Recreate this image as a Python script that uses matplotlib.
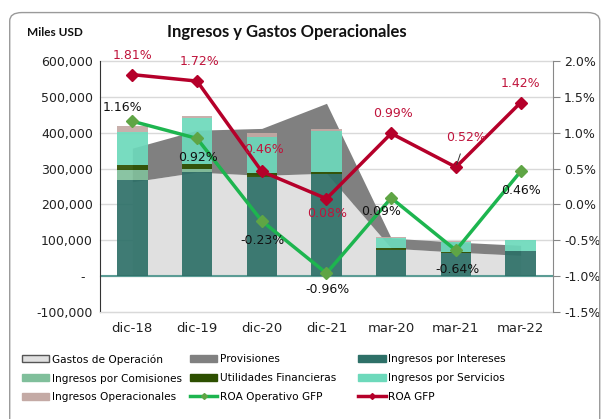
import matplotlib.pyplot as plt
import matplotlib.patches as patches
from matplotlib.lines import Line2D
import numpy as np

plt.rcParams['font.family'] = ['DejaVu Sans']

# datos (miles USD y %)
categorias = ['dic-18', 'dic-19', 'dic-20', 'dic-21', 'mar-20', 'mar-21', 'mar-22']
gastos_operacion = [263000, 290000, 281000, 287000, 78000, 67000, 58000]
provisiones = [94000, 117000, 131000, 195000, 28000, 28000, 28000]
ing_intereses = [267000, 290000, 277000, 286000, 72000, 65000, 70000]
ing_comisiones = [28000, 8000, 0, 0, 0, 0, 0]
utilidades_fin = [14000, 14000, 11000, 4000, 6000, 2000, 0]
ing_servicios = [93000, 128000, 100000, 115000, 28000, 29000, 30000]
ing_operacionales = [16000, 8000, 11000, 6000, 2000, 1000, 1000]
roa_operativo = [1.16, 0.92, -0.23, -0.96, 0.09, -0.64, 0.46]
roa_gfp = [1.81, 1.72, 0.46, 0.08, 0.99, 0.52, 1.42]

x = np.arange(len(categorias))

fig = plt.figure(figsize=(6.07, 4.19), dpi=100)
ax = fig.add_axes([0.1647, 0.2554, 0.7463, 0.599])

# areas
g = np.array(gastos_operacion)
p = np.array(provisiones)
ax.fill_between(x, 0, g, color='#e0e0e0', zorder=1, linewidth=0)
ax.fill_between(x, g, g + p, color='#808080', zorder=1, linewidth=0)

# barras apiladas
series = [
    (ing_intereses, '#2e7068'),
    (ing_comisiones, '#80bf9b'),
    (utilidades_fin, '#2d4f00'),
    (ing_servicios, '#6dd9bb'),
    (ing_operacionales, '#c4aaa5'),
]
bottom = np.zeros(len(x))
for vals, col in series:
    ax.bar(x, vals, 0.47, bottom=bottom, color=col, alpha=0.92, zorder=2, linewidth=0)
    bottom += np.array(vals)

ax.set_xlim(-0.5, len(x) - 0.5)
ax.set_ylim(-100000, 600000)
yt = np.arange(-100000, 600001, 100000)
ax.set_yticks(yt)
ax.set_yticklabels([f'{v:,.0f}' if v != 0 else '-  ' for v in yt], fontsize=9, color='#222222')
ax.yaxis.grid(True, color='#d9d9d9', linewidth=1, zorder=0, clip_on=False)
ax.set_axisbelow(True)
ax.tick_params(axis='y', length=0, pad=5)
ax.axhline(0, color='#5b9c95', linewidth=1.5, zorder=1.5)
ax.spines['bottom'].set_color('#d9d9d9')
ax.set_xticks(x)
ax.set_xticklabels(categorias, fontsize=9.5, color='#222222')
ax.tick_params(axis='x', length=0, pad=7)
ax.spines['top'].set_visible(False)
ax.spines['right'].set_visible(False)
ax.spines['left'].set_color('#333333')

# eje derecho (%)
ax2 = ax.twinx()
ax2.set_ylim(-1.5, 2.0)
yt2 = np.arange(-1.5, 2.01, 0.5)
ax2.set_yticks(yt2)
ax2.set_yticklabels([f'{v:.1f}%' for v in yt2], fontsize=9, color='#222222')
ax2.tick_params(axis='y', length=5, color='#888888', direction='out', pad=3)
for s in ['top', 'left', 'bottom']:
    ax2.spines[s].set_visible(False)
ax2.spines['right'].set_color('#888888')

ax2.plot(x, roa_gfp, color='#b5002a', linewidth=2.5, marker='D', markersize=6,
         markerfacecolor='#b5002a', zorder=4)
ax2.plot(x, roa_operativo, color='#1db54f', linewidth=2.5, marker='D', markersize=6,
         markerfacecolor='#5fa545', markeredgecolor='#5fa545', zorder=4)

red_off = [(0, 14), (2, 14), (1.5, 16), (0.7, -11), (1.5, 14), (7, 21), (0, 14)]
green_off = [(-7, 10), (0.7, -14), (0.7, -14), (0.7, -12), (-7, -10), (1.5, -14), (0, -14)]
for i in range(len(x)):
    arrow = None
    if i == 5:
        arrow = dict(arrowstyle='-', color='#333333', linewidth=0.7, shrinkA=5, shrinkB=2)
    ax2.annotate(f'{roa_gfp[i]:.2f}%', (x[i], roa_gfp[i]), xytext=red_off[i],
                 textcoords='offset points', ha='center', va='center', fontsize=9,
                 color='#c0143c', zorder=5, arrowprops=arrow)
    ax2.annotate(f'{roa_operativo[i]:.2f}%', (x[i], roa_operativo[i]), xytext=green_off[i],
                 textcoords='offset points', ha='center', va='center', fontsize=9,
                 color='#111111', zorder=5)

fig.text(0.473, 0.924, 'Ingresos y Gastos Operacionales', ha='center', va='center',
         fontsize=12, fontweight='bold', color='#111111', family='Lato')
fig.text(0.09, 0.922, 'Miles USD', ha='center', va='center', fontsize=8.5, fontweight='bold',
         color='#111111', family='Lato')

# marco redondeado
frame = patches.FancyBboxPatch((0.016, -0.05), 0.972, 1.02, boxstyle='round,pad=0,rounding_size=0.02',
                               transform=fig.transFigure, facecolor='none', edgecolor='#9a9a9a',
                               linewidth=1.0)
fig.patches.append(frame)

# leyenda
def box(fc, ec=None):
    return patches.Patch(facecolor=fc, edgecolor=ec if ec else fc, linewidth=1)

cols = [
    [(box('#e0e0e0', '#555555'), 'Gastos de Operación'),
     (box('#80bf9b'), 'Ingresos por Comisiones'),
     (box('#c4aaa5'), 'Ingresos Operacionales')],
    [(box('#808080'), 'Provisiones'),
     (box('#2d4f00'), 'Utilidades Financieras'),
     (Line2D([], [], color='#1db54f', linewidth=2.5, marker='D', markersize=3,
             markerfacecolor='#5fa545', markeredgecolor='#5fa545'), 'ROA Operativo GFP')],
    [(box('#2e7068'), 'Ingresos por Intereses'),
     (box('#6dd9bb'), 'Ingresos por Servicios'),
     (Line2D([], [], color='#b5002a', linewidth=2.5, marker='D', markersize=3), 'ROA GFP')],
]
xs = [0.036, 0.313, 0.59]
for cx, col in zip(xs, cols):
    fig.legend([h for h, _ in col], [l for _, l in col], loc='upper left',
               bbox_to_anchor=(cx, 0.155), frameon=False, fontsize=7.6, ncol=1,
               handlelength=2.6, handleheight=0.6, handletextpad=0.25, labelspacing=0.85,
               borderaxespad=0, borderpad=0)

fig.savefig('out.png', dpi=100)
